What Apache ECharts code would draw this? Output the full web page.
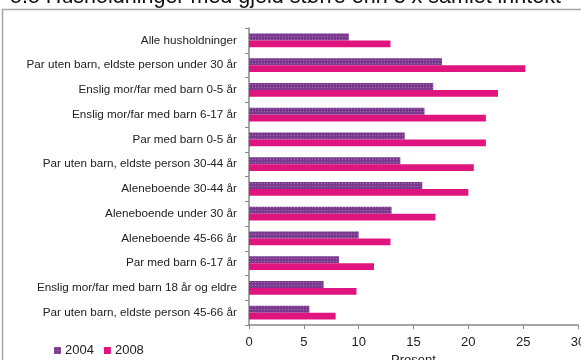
<!DOCTYPE html>
<html>
<head>
<meta charset="utf-8">
<script src="https://cdn.jsdelivr.net/npm/echarts@6/dist/echarts.min.js"></script>
<style>
    html, body { margin: 0; padding: 0; background: #fff; }
    #chart { width: 581px; height: 360px; }
</style>
</head>
<body>
<div id="chart"></div>
<script>
    // data
    var categories = [
      'Alle husholdninger',
      'Par uten barn, eldste person under 30 år',
      'Enslig mor/far med barn 0-5 år',
      'Enslig mor/far med barn 6-17 år',
      'Par med barn 0-5 år',
      'Par uten barn, eldste person 30-44 år',
      'Aleneboende 30-44 år',
      'Aleneboende under 30 år',
      'Aleneboende 45-66 år',
      'Par med barn 6-17 år',
      'Enslig mor/far med barn 18 år og eldre',
      'Par uten barn, eldste person 45-66 år'
    ];
    var values2004 = [9.1, 17.6, 16.8, 16.0, 14.2, 13.8, 15.8, 13.0, 10.0, 8.2, 6.8, 5.5];
    var values2008 = [12.9, 25.2, 22.7, 21.6, 21.6, 20.5, 20.0, 17.0, 12.9, 11.4, 9.8, 7.9];
    var xTicks = [0, 5, 10, 15, 20, 25, 30];

    var chart = echarts.init(document.getElementById('chart'));

    var labelFont = 'Liberation Sans';

    var option = {
      animation: false,
      textStyle: { fontFamily: labelFont },
      graphic: [
        {
          type: 'text',
          left: 10,
          top: -14,
          style: {
            text: '5.5 Husholdninger med gjeld større enn 3 x samlet inntekt',
            font: '21.5px "Liberation Sans"',
            fill: '#111'
          }
        },
        {
          type: 'rect',
          shape: { x: 2.5, y: 9.5, width: 600, height: 400 },
          style: { fill: 'none', stroke: '#a8a8a8', lineWidth: 1.5 },
          z: -1
        }
      ],
      legend: {
        left: 49,
        bottom: -2,
        itemWidth: 7,
        itemHeight: 7,
        itemGap: 10,
        icon: 'rect',
        textStyle: { fontSize: 13, color: '#222', fontFamily: labelFont, padding: [0, 0, 0, -1] },
        data: ['2004', '2008']
      },
      grid: {
        left: 249,
        right: 3,
        top: 28,
        bottom: 35,
        outerBoundsMode: 'none',
        containLabel: false
      },
      xAxis: {
        type: 'value',
        min: xTicks[0],
        max: xTicks[xTicks.length - 1],
        interval: 5,
        name: 'Prosent',
        nameLocation: 'middle',
        nameGap: 27,
        nameTextStyle: { fontSize: 13, color: '#222' },
        axisLine: { show: true, lineStyle: { color: '#888', width: 1.5 } },
        axisTick: { show: true, length: 4, inside: false, lineStyle: { color: '#888' } },
        axisLabel: { fontSize: 13, color: '#222', margin: 11 },
        splitLine: { show: false }
      },
      yAxis: {
        type: 'category',
        inverse: true,
        data: categories,
        axisLine: { show: true, lineStyle: { color: '#888', width: 1.5 } },
        axisTick: { show: true, length: 4, lineStyle: { color: '#888' } },
        axisLabel: { fontSize: 11.7, color: '#222', margin: 12 }
      },
      series: [
        {
          name: '2004',
          type: 'bar',
          data: values2004,
          barGap: '0%',
          barCategoryGap: '44%',
          itemStyle: {
            color: '#7a3b8f',
            decal: {
              symbol: 'rect',
              symbolSize: 1,
              color: 'rgba(215,180,230,0.45)',
              dashArrayX: [1, 2],
              dashArrayY: [1, 2],
              rotation: 0
            }
          }
        },
        {
          name: '2008',
          type: 'bar',
          data: values2008,
          itemStyle: { color: '#e0147f' }
        }
      ]
    };

    chart.setOption(option);
</script>
</body>
</html>
